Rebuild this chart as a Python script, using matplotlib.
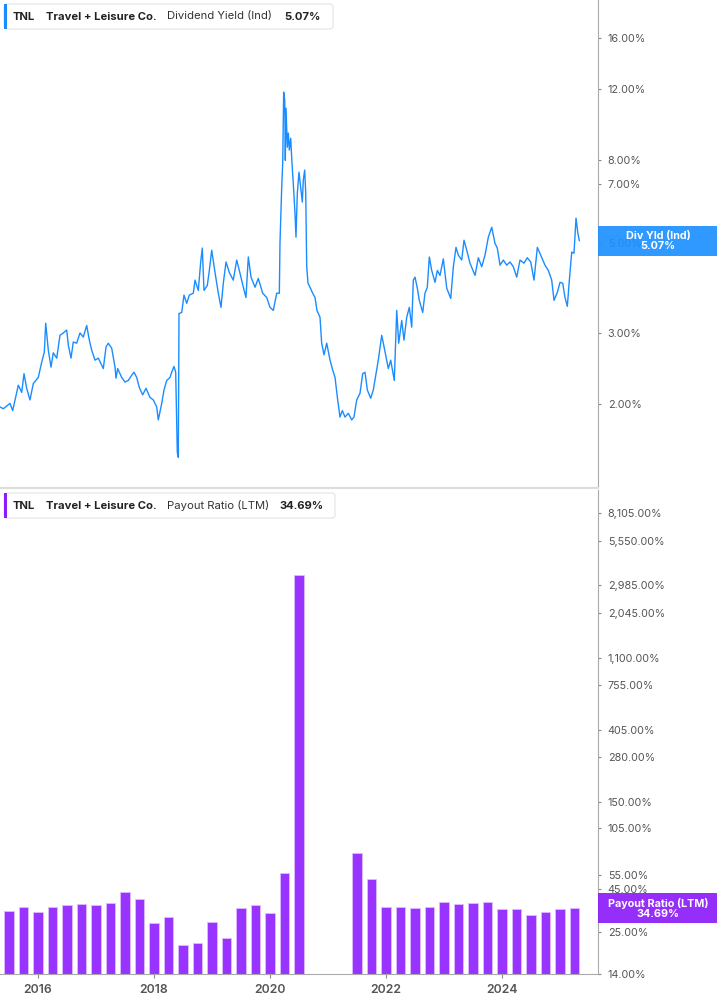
import numpy as np
import matplotlib.pyplot as plt
from matplotlib.patches import Rectangle, FancyBboxPatch
from matplotlib.transforms import IdentityTransform

plt.rcParams['font.family'] = ['Inter', 'DejaVu Sans']

# dividend yield (Ind), in %, dates as decimal years
yld_t = [2015.345, 2015.402, 2015.517, 2015.564, 2015.604, 2015.661, 2015.719, 2015.759, 2015.805, 2015.862,
         2015.919, 2016.005, 2016.064, 2016.109, 2016.133, 2016.178, 2016.224, 2016.264, 2016.323, 2016.379,
         2016.436, 2016.495, 2016.523, 2016.569, 2016.609, 2016.667, 2016.724, 2016.781, 2016.840, 2016.885,
         2016.926, 2016.983, 2017.040, 2017.126, 2017.173, 2017.212, 2017.271, 2017.328, 2017.345, 2017.374,
         2017.443, 2017.500, 2017.557, 2017.616, 2017.655, 2017.702, 2017.747, 2017.805, 2017.862, 2017.931,
         2017.988, 2018.047, 2018.074, 2018.133, 2018.173, 2018.219, 2018.276, 2018.305, 2018.345, 2018.374,
         2018.402, 2018.419, 2018.431, 2018.478, 2018.517, 2018.564, 2018.609, 2018.678, 2018.707, 2018.764,
         2018.805, 2018.833, 2018.862, 2018.919, 2018.954, 2018.995, 2019.052, 2019.109, 2019.155, 2019.195,
         2019.242, 2019.298, 2019.367, 2019.426, 2019.483, 2019.540, 2019.586, 2019.626, 2019.673, 2019.742,
         2019.798, 2019.874, 2019.943, 2020.000, 2020.057, 2020.116, 2020.161, 2020.172, 2020.202, 2020.219,
         2020.236, 2020.254, 2020.264, 2020.276, 2020.299, 2020.316, 2020.333, 2020.357, 2020.379, 2020.402,
         2020.431, 2020.448, 2020.471, 2020.500, 2020.529, 2020.557, 2020.574, 2020.598, 2020.616, 2020.633,
         2020.655, 2020.690, 2020.736, 2020.776, 2020.810, 2020.833, 2020.862, 2020.891, 2020.931, 2020.978,
         2021.035, 2021.081, 2021.121, 2021.167, 2021.207, 2021.247, 2021.293, 2021.350, 2021.409, 2021.448,
         2021.495, 2021.552, 2021.598, 2021.638, 2021.678, 2021.736, 2021.781, 2021.828, 2021.867, 2021.926,
         2021.954, 2022.000, 2022.040, 2022.081, 2022.143, 2022.185, 2022.219, 2022.271, 2022.310, 2022.357,
         2022.402, 2022.443, 2022.471, 2022.500, 2022.540, 2022.574, 2022.633, 2022.672, 2022.712, 2022.747,
         2022.788, 2022.845, 2022.885, 2022.931, 2022.988, 2023.047, 2023.116, 2023.161, 2023.207, 2023.247,
         2023.305, 2023.345, 2023.392, 2023.448, 2023.535, 2023.592, 2023.650, 2023.707, 2023.764, 2023.823,
         2023.879, 2023.919, 2023.966, 2024.023, 2024.081, 2024.138, 2024.195, 2024.254, 2024.310, 2024.379,
         2024.436, 2024.495, 2024.552, 2024.609, 2024.667, 2024.741, 2024.798, 2024.857, 2024.897, 2024.954,
         2025.000, 2025.047, 2025.086, 2025.126, 2025.161, 2025.202, 2025.241, 2025.276, 2025.305, 2025.333]
yld_v = [1.97, 1.95, 2.01, 1.93, 2.05, 2.23, 2.14, 2.38, 2.19, 2.05,
         2.25, 2.33, 2.54, 2.69, 3.17, 2.72, 2.47, 2.68, 2.60, 2.96,
         3.00, 3.05, 2.80, 2.60, 2.85, 2.83, 3.00, 2.93, 3.13, 2.88,
         2.72, 2.57, 2.60, 2.45, 2.77, 2.83, 2.75, 2.47, 2.32, 2.45,
         2.33, 2.27, 2.29, 2.36, 2.40, 2.33, 2.20, 2.11, 2.19, 2.08,
         2.05, 1.97, 1.83, 2.01, 2.17, 2.29, 2.33, 2.40, 2.48, 2.40,
         1.52, 1.48, 3.35, 3.37, 3.72, 3.55, 3.72, 3.76, 4.05, 3.82,
         4.49, 4.86, 3.82, 3.93, 4.28, 4.80, 4.23, 3.76, 3.47, 3.98,
         4.49, 4.23, 4.05, 4.54, 4.21, 3.89, 3.67, 4.62, 4.12, 3.89,
         4.09, 3.76, 3.67, 3.47, 3.41, 3.76, 3.76, 4.99, 6.87, 7.87,
         11.79, 11.26, 8.00, 10.76, 8.62, 9.34, 8.48, 9.07, 7.87, 7.00,
         5.92, 5.17, 6.64, 7.48, 6.87, 6.31, 7.15, 7.57, 6.64, 4.37,
         3.98, 3.89, 3.76, 3.67, 3.41, 3.35, 3.28, 2.83, 2.65, 2.83,
         2.57, 2.43, 2.33, 2.05, 1.86, 1.93, 1.86, 1.90, 1.83, 1.86,
         2.05, 2.13, 2.38, 2.40, 2.17, 2.07, 2.17, 2.38, 2.57, 2.96,
         2.83, 2.62, 2.45, 2.57, 2.29, 3.41, 2.83, 3.22, 2.88, 3.28,
         3.47, 3.10, 4.05, 4.12, 3.87, 3.61, 3.37, 3.76, 3.89, 4.62,
         4.28, 4.00, 4.28, 4.16, 4.57, 3.87, 3.65, 4.37, 4.88, 4.67,
         4.54, 5.08, 4.80, 4.46, 4.16, 4.60, 4.37, 4.67, 5.17, 5.47,
         4.99, 4.86, 4.41, 4.54, 4.41, 4.49, 4.37, 4.12, 4.54, 4.46,
         4.60, 4.49, 4.05, 4.88, 4.67, 4.41, 4.28, 4.05, 3.61, 3.78,
         4.00, 3.98, 3.67, 3.49, 4.05, 4.75, 4.72, 5.76, 5.32, 5.07]

# payout ratio (LTM), in %, at quarter ends (no data for 2020 Q3 - 2021 Q1)
quarters = [2015.50, 2015.75, 2016.00, 2016.25, 2016.50, 2016.75, 2017.00, 2017.25, 2017.50, 2017.75,
            2018.00, 2018.25, 2018.50, 2018.75, 2019.00, 2019.25, 2019.50, 2019.75, 2020.00, 2020.25,
            2020.50, 2021.50, 2021.75, 2022.00, 2022.25, 2022.50, 2022.75, 2023.00, 2023.25, 2023.50,
            2023.75, 2024.00, 2024.25, 2024.50, 2024.75, 2025.00, 2025.25]
payout = [33.5, 35.5, 33.1, 35.5, 36.5, 37.0, 36.5, 37.5, 43.7, 39.6,
          28.4, 30.9, 20.9, 21.5, 28.8, 23.1, 35.0, 36.5, 32.6, 56.8,
          3450.0, 74.0, 51.6, 35.5, 35.5, 35.0, 35.5, 38.0, 37.0, 37.5,
          38.0, 34.5, 34.5, 31.7, 33.1, 34.5, 34.69]

yld_ticks = [2, 3, 5, 7, 8, 12, 16]
pay_ticks = [14, 25, 45, 55, 105, 150, 280, 405, 755, 1100, 2045, 2985, 5550, 8105]
year_ticks = [2016, 2018, 2020, 2022, 2024]

BLUE = '#1a8cff'
PURPLE = '#9933ff'
W, H = 717, 1005

fig = plt.figure(figsize=(W / 100, H / 100), dpi=100)


def fx(x):
    return x / W


def fy(y):
    return 1 - y / H


ax1 = fig.add_axes([0, fy(487), fx(598), fy(0) - fy(487)])
ax2 = fig.add_axes([0, fy(974), fx(598), fy(490) - fy(974)])

ax1.plot(yld_t, yld_v, color=BLUE, lw=1.0)
ax1.set_yscale('log')
ax1.set_ylim(1.25, 19.9)

ax2.bar(quarters, payout, width=0.17, color=PURPLE, edgecolor='#dcbcff', linewidth=0.6)
ax2.set_yscale('log')
ax2.set_ylim(14, 11150)

for ax, ticks in ((ax1, yld_ticks), (ax2, pay_ticks)):
    ax.set_xlim(2015.345, 2025.655)
    ax.yaxis.tick_right()
    ax.set_yticks(ticks)
    ax.set_yticklabels([f"{t:,.2f}%" for t in ticks])
    ax.minorticks_off()
    ax.tick_params(axis='y', direction='out', length=2.5, width=0.8, color='#888',
                   pad=4.5, labelsize=7.8, labelcolor='#555')
    for side in ('top', 'left'):
        ax.spines[side].set_visible(False)
    ax.spines['right'].set_color('#aaa')
    ax.spines['bottom'].set_color('#ccc')

ax1.set_xticks([])
ax2.set_xticks(year_ticks)
ax2.set_xticklabels([str(y) for y in year_ticks])
ax2.tick_params(axis='x', direction='out', length=3, width=0.8, color='#888',
                pad=4, labelsize=8.8, labelcolor='#555')
for lab in ax2.get_xticklabels():
    lab.set_fontweight('semibold')
ax2.spines['bottom'].set_color('#aaa')

fig.canvas.draw()
ident = IdentityTransform()


def value_box(ax, value, color, line1, line2):
    yc = ax.transData.transform((2020, value))[1]
    fig.patches.append(Rectangle((598, yc - 15), W - 598, 30, transform=ident,
                                 facecolor=color, edgecolor='none', alpha=0.92))
    fig.text(fx(658), yc / H, line1 + "\n" + line2, ha='center', va='center',
             fontsize=7.8, fontweight='bold', color='white', linespacing=1.0)


value_box(ax1, yld_v[-1], '#1e90ff', 'Div Yld (Ind)', f"{yld_v[-1]:.2f}%")
value_box(ax2, payout[-1], '#8c1cf8', 'Payout Ratio (LTM)', f"{payout[-1]:.2f}%")


def legend_box(top, right, color, metric, value, value_x):
    fig.patches.append(FancyBboxPatch((4, H - top - 25), right - 4, 25, transform=ident,
                                      boxstyle='round,pad=0,rounding_size=3',
                                      facecolor='white', edgecolor='#e4e4e4', lw=0.8))
    fig.patches.append(Rectangle((4, H - top - 25), 3, 25, transform=ident,
                                 facecolor=color, edgecolor='none'))
    yc = fy(top + 12.5)
    fig.text(fx(13), yc, 'TNL', fontsize=8.1, fontweight='bold', color='#222', va='center')
    fig.text(fx(46), yc, 'Travel + Leisure Co.', fontsize=8.1, fontweight='bold', color='#222', va='center')
    fig.text(fx(167), yc, metric, fontsize=8.1, color='#333', va='center')
    fig.text(fx(value_x), yc, value, fontsize=8.1, fontweight='bold', color='#222', va='center')


legend_box(4, 333, BLUE, 'Dividend Yield (Ind)', f"{yld_v[-1]:.2f}%", 284)
legend_box(493, 335, '#8c1cf8', 'Payout Ratio (LTM)', f"{payout[-1]:.2f}%", 279)

# separator between panels
fig.lines.append(plt.Line2D([0, fx(598)], [fy(488.5), fy(488.5)], transform=fig.transFigure,
                            color='#ddd', lw=1.5))

fig.savefig('out.png', dpi=100)
